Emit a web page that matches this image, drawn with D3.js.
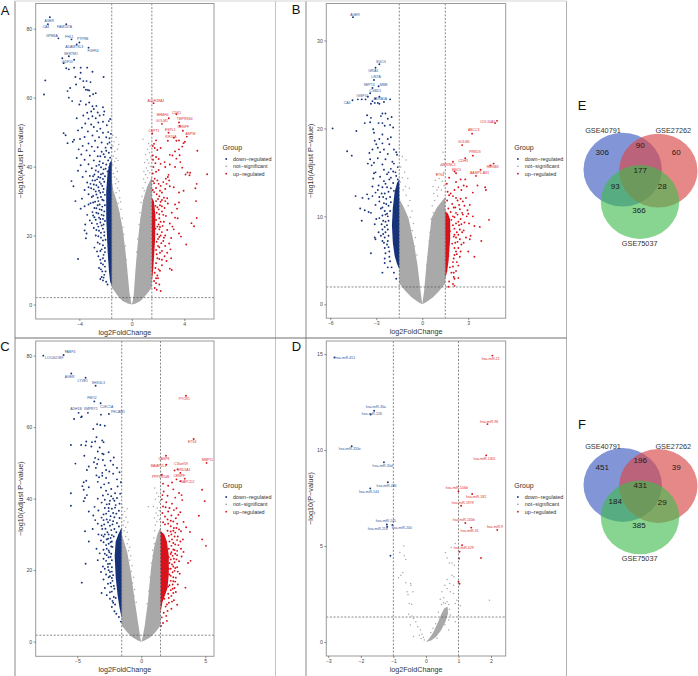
<!DOCTYPE html>
<html><head><meta charset="utf-8">
<script src="https://cdn.jsdelivr.net/npm/d3@7"></script>
<style>html,body{margin:0;padding:0;background:#fff}svg{display:block}text{font-family:"Liberation Sans",Arial,sans-serif}</style>
</head><body><svg id="c" width="698" height="676"></svg>
<script>
// ---------- Panel A values (log2FC, -log10 adj P)
const aDown=[[-6.25,83.3],[-6.4,81.3],[-5,81.3],[-5.6,77.2],[-4.6,76.9],[-4,76],[-4.2,75.4],[-3.3,74.5],[-4.8,72],[-5.3,71.4],[-4.4,71],[-5.2,70],[-5,68.5],[-4.8,68.2],[-4.4,68.7],[-3.9,68.7],[-3.4,68.7],[-3,67.5],[-3.9,67.2],[-2.15,66],[-6.6,65],[-6.7,60.9],
[-4.3,66],[-3.95,65.5],[-3.7,64.8],[-3.45,64.8],[-3.15,64.5],[-4.25,63.8],[-4.7,62.8],[-3.65,63],[-3.5,62.3],[-3.35,62.2],[-3.25,62.1],[-4.9,61.9],[-2.75,61.3],[-2.95,61],[-3.2,60.5],[-4.8,60],[-4.55,59],[-3.9,59],[-4,58],[-3.5,58],[-3.25,58.6],[-3,57.5],[-2.7,57.6],[-2.2,57.2],[-2.9,56.7],[-3.1,56],[-3.4,55.6],[-2.6,55.7],[-2.1,56],[-2.15,55],[-2.45,54.8],[-3.7,54.8],[-3,54.6],[-2.75,54],[-3.3,53.9],[-4.2,54],[-1.65,53.8],[-1.75,53.2],[-2.2,53],[-2.55,52.8],[-3.55,52.5],[-3.1,52.2],[-1.9,52],[-2.9,51.5],[-3.8,51.3],[-2.4,51],[-4.1,50.5],[-2.65,50.3],[-3.35,50.2],[-1.8,50],[-2.2,49.8],[-5.2,49.7],[-5.05,49.1],[-3,49],[-3.6,48.6],[-2.5,48.5],[-1.95,48.5],[-3.95,48],[-4.4,47.8],[-4.5,47.2],[-2.8,47.5],[-4.9,46.8],[-2.3,47],[-1.7,47],[-3.3,46.7],[-3.75,46],[-3.05,45.8],[-2.6,45.6],[-2,45.5],[-4.05,45],[-3.45,44.7],[-2.85,44.5],[-2.3,44.3],[-1.75,44],[-3.85,43.5],[-3.2,43.2],[-2.6,43],[-2.05,42.8],[-4.2,42.5],[-3.6,42],[-2.9,41.8],[-2.45,41.5],[-2.2,41],[-3.3,40.7],[-3.9,40.4],[-2.7,40.2],[-2.35,39.8],[-3.05,39.5],[-2,39.4],[-4.1,38.8],[-3.5,38.6],[-2.55,38.5],[-2.2,38],[-2.85,37.7],[-3.2,37.3],[-3.75,37],[-2.4,36.8],[-2.65,36.3],[-3,36],[-4.6,35.8],[-2.1,35.6],[-3.4,35.4],[-2.35,35],[-2.9,34.8],[-4.45,34.3],[-2.55,34],[-3.1,33.7],[-2.15,33.5],[-3.6,33.2],[-2.75,32.8],[-2.4,32.4],[-3.3,32],[-2.05,31.8],[-2.95,31.5],[-2.6,31],[-3.8,30.7],[-4.3,30],[-2.25,30.4],[-2.8,29.8],[-3.15,29.4],[-2.45,29],[-2.05,28.8],[-3.6,28.5],[-3.9,27.8],[-2.7,27.9],[-2.3,27.4],[-3,26.8],[-2.55,26.4],[-3.4,26],[-2.15,25.8],[-2.85,25.3],[-2.4,24.8],[-3.2,24.4],[-2.05,24.2],[-3.55,23.2],[-2.65,23.4],[-2.3,22.9],[-2.9,22.2],[-3.6,21.5],[-2.5,21.4],[-2.1,21],[-3.45,20.6],[-2.75,20],[-3.5,19.2],[-2.35,19.4],[-2,18.8],[-2.6,18],[-2.2,17.2],[-2.85,16.5],[-2.4,15.5],[-2.05,15.2],[-2.55,14],[-4.1,13.2],[-2.2,13.4],[-2.35,12],[-2.05,11],[-2.5,10.6],[-2.25,9.6],[-2.1,8.6],[-2.3,8],[-2.4,7.4],[-2.2,7],[-1.95,6.6],[-1.85,5.8],
[-1.6,49.5],[-1.7,48.2],[-1.85,46.6],[-1.58,45.5],[-1.95,44.6],[-1.65,42.6],[-2.15,43.6],[-1.8,41.8],[-2.4,43],[-1.6,40.8],[-1.95,40.6],[-2.5,40.5],[-1.72,39.8],[-2.15,39.2],[-2.75,38.9],[-1.85,38.6],[-2.35,37.8],[-2.05,37.2],[-2.95,37.2],[-2.55,37],[-2.2,36.4],[-2.8,36],[-2.45,35.5],[-3.15,35],[-2.7,34.6],[-2.25,34.4],[-3.3,34],[-2.9,33.4],[-2.5,33],[-2.2,32.6],[-2.7,31.9],[-3.05,31.2],[-2.35,31.2],[-2.15,30.2],[-2.55,30],[-2.95,29.6],[-3.3,29],[-2.6,28.8],[-2.25,28.4],[-2.85,28],[-2.45,27.6],[-2.1,27],[-2.7,26.6],[-2.3,26],[-2.95,25.8],[-2.5,25.2],[-2.2,24.8],[-2.75,24.6],[-3.05,23.6],[-2.4,23.8],[-2.15,23.2],[-2.55,22.6],[-2.2,22],[-2.7,21.6],[-2.35,20.8],[-2.1,20],[-2.55,19.8],[-2.2,18.6],[-2.45,17.6],[-2.05,16.4],[-2.3,16],[-2.65,15.4],[-2.15,14.4],[-2.4,13],[-2.05,12.6],[-2.2,11.6],[-2.35,10.2],[-2,9.6],[-2.15,7.8]];
const aDownBand=[[-1.53,5.5],[-1.65,6.5],[-1.75,10],[-1.85,16],[-1.95,25],[-1.95,33],[-1.85,38],[-1.7,41],[-1.53,42]];
const aUp=[[1.66,58.4],[2.82,54],[2.3,52.4],[3.4,55.2],[3.6,52.8],[3.65,51.8],[3.9,50.4],[2.8,49.8],[1.56,49.6],[3.2,48.4],[2.75,47.5],[3.4,47.5],[3.6,47.6],[4.05,47.2],[4.2,48.7],[3.95,46.8],[1.85,47.6],[1.7,46.6],[1.6,46],[1.75,45.4],[3.85,45.8],[3.6,45],[2.2,45.4],[1.95,44.8],[3.3,44.4],[5,44.6],[2.9,43.4],[3.1,43.2],[3.65,43.3],[1.6,43.2],[1.85,42.8],[2.05,42.2],[3.4,42.3],[3.7,41.3],[2.5,41.3],[2.2,40.8],[2.9,40.6],[2.55,39.9],[3.3,39.9],[1.65,39.9],[3.85,39.7],[2.05,39],[1.85,38.5],[4.25,38.3],[4.45,38.2],[4.1,37.7],[5.75,37.8],[4.4,37.5],[2.8,37.6],[2.75,37],[2.6,36.5],[2.85,36],[2.4,35.5],[2.65,35],[4.95,35],[1.7,35.2],[2.2,34.4],[2.9,34.3],[3.2,34],[4.85,33.7],[2.55,33.5],[3.95,33],[1.6,33.2],[2.3,32.5],[1.9,32],[3.6,32.5],[2.1,31.4],[2.45,31],[2.7,30.8],[2.3,30.3],[2.55,30],[2.2,29.8],[4.9,30],[3.6,29.6],[2.75,29.3],[3.3,29],[1.8,28.6],[2.5,28],[2.05,27.6],[3.45,27.8],[2.3,27],[1.9,26.6],[3.05,26.6],[1.7,26],[2.6,25.7],[3.3,25.2],[3.5,25],[4.95,25.1],[2.1,25],[1.85,24.5],[4.55,23.6],[2.45,24],[2.9,23.5],[4.75,22.7],[3.1,22.6],[2.15,22.5],[1.8,22],[2.7,21.6],[3.2,21.8],[2.3,21],[1.95,20.4],[3.6,20.6],[2.55,20],[2.1,19.6],[3.75,19.7],[3,19.3],[2.4,18.4],[1.9,18.2],[2.85,17.7],[4.15,17.4],[2.55,17],[2.1,16.6],[2.95,16],[2.3,15.5],[2.7,15],[1.9,14.6],[2.5,14],[3,13.4],[2.1,13.2],[2.65,12.6],[1.85,12],[2.3,11.4],[2.9,10.4],[3.05,10],[2.15,9.8],[1.75,9.2],[1.95,8.4],[2,7.6],[1.7,6.8],[1.85,6.2],[2.1,5.8],[1.75,4.8],[1.9,4.3],[2.2,3.9],
[1.62,42],[1.8,41],[1.6,38],[1.75,36.5],[1.95,36],[1.62,35.8],[2.05,35],[1.85,33.8],[2.15,33],[1.7,32.6],[2,30.6],[1.85,30],[2.15,28.8],[1.95,28.2],[2.3,28.5],[2.1,26.2],[2.4,26],[2.2,24],[2.05,23.2],[2.35,22.8],[2.1,21.8],[1.95,22.6],[2.2,20],[2.45,19.4],[2,19],[2.25,17.8],[2,17],[1.85,15.8],[2.15,15],[1.95,13.4],[2.3,13],[1.8,10.6],[2.05,10.2],[1.85,7.6]];
const aUpBand=[[1.53,6.5],[1.63,10],[1.7,14],[1.78,19],[1.8,26],[1.68,30],[1.53,31]];
const aGray=[[-1.45,49],[-1.2,48.5],[-1.35,47.2],[-1,46.4],[-1.45,46],[-1.1,45],[-1.3,44.4],[-1.42,43],[-1.18,42.4],[-1.3,41.5],[-1.45,40.5],[-1.05,41.8],[-1.22,39.6],[-1.1,38.6],[-1.4,38],[-1.32,37],[-1.15,36.4],[-1.02,35.6],[-1.25,35],[-1.08,33.8],[-.95,33],[-1.2,32.4],[-.92,31],[-.85,29.8],[-1.05,29.4],[-.82,27.6],[-.95,26.4],[-.72,25],[-.85,23.6],[-.68,22.4],[-.62,20.4],[-.72,18.8],[-.5,17],[-.58,15],[-.42,13],[-.5,11.4],
[.85,47.9],[1.28,46.7],[1.4,46],[1.2,45],[1.35,44],[1.05,43.5],[1.45,42.8],[1.18,42],[1.3,41],[.98,41.2],[1.42,40],[1.1,39.6],[1.22,38.8],[1.38,38.2],[.92,38.6],[1.05,37.6],[1.2,36.8],[.9,36.4],[1.02,35.4],[.85,33.8],[.95,33],[.78,31.4],[.7,29.6],[.82,28.4],[.62,26.6],[.7,25],[.56,23.2],[.62,21.6],[.45,19],[.52,17],[.38,15.2],[.42,13]];
const aGrayLeft=[[0,0],[-.3,.3],[-.7,1],[-1.05,2.4],[-1.3,3.8],[-1.53,5],[-1.53,36],[-1.4,33],[-1.15,30],[-.95,27],[-.7,22],[-.5,16],[-.34,10],[-.18,3.5],[-.06,.7]];
const aGrayRight=[[0,0],[.06,.7],[.15,3],[.28,10],[.46,18],[.62,24],[.85,30],[1.15,34],[1.53,37],[1.53,5],[1.3,3.8],[1,2.4],[.65,1],[.3,.3]];
const aNames=["AGER","CA4","FAM107A","GPM6A","FHL1","PTPRB","ADAMTSL3","FGFR4","SERTM1","GDF10"];
const aNameX=[-6.3,-6.55,-5.13,-6.1,-4.77,-3.75,-4.39,-2.96,-4.64,-4.92];
const aNameY=[82.4,80.5,80.4,78,77.5,77.1,74.6,73.7,72.7,70.5];
const aUpNames=["ALDH18A1","BHMH4","GOLM1","CDK1","TMPRSS4","CENPF","ESPL1","CEPT1","KIF20A","ASPM"];
const aUpNameX=[1.84,2.35,2.3,3.42,4.03,3.93,2.94,1.69,2.99,4.47];
const aUpNameY=[59.2,54.9,53.2,55.7,54,51.6,50.7,50.5,48.5,49.4];

// ---------- Panel B
const bDown=[[-4.52,32.65],[-2.8,27.3],[-3.05,26.9],[-3.15,25.5],[-3.25,24.6],[-2.85,24.8],[-3.4,24],[-3.55,23.6],[-3.05,23.4],[-2.8,23.6],[-4.55,23.2],[-4.2,23.3],[-3.95,23.3],[-3.7,23.3],[-3.25,23.1],[-3.1,22.9],[-2.9,22.9],[-2.1,23.3],[-2.5,23],[-3.35,22.8],[-2.8,22.8],[-3.6,21.5],[-3.35,21.2],[-2.6,21.7],[-2.4,21.7],[-2.7,21.4],[-2,21.3],[-2.25,21.1],[-3.4,20.7],[-3.75,20.6],[-2.85,20.6],[-2.6,20.6],[-2.45,20.3],[-2.1,20.4],[-1.9,20.1],[-5.85,20],[-3.2,19.9],[-3.15,19.5],[-4.3,19.7],[-2.6,19.3],[-2.05,19],[-2.25,18.8],[-2.8,18.8],[-3.1,18.6],[-3,18.2],[-2.6,18.3],[-2.15,18.2],[-2.9,17.8],[-3.25,17.6],[-2.5,17.6],[-1.85,17.6],[-4.9,17.4],[-3.45,17.2],[-2.75,17.3],[-2.25,17.1],[-1.7,17.3],[-4.6,16.9],[-3.4,16.5],[-2.9,16.6],[-2.4,16.5],[-1.95,16.2],[-3.15,16.1],[-3.3,15.8],[-2.6,15.9],[-3.55,16],[-2.05,15.4],[-2.5,15.3],[-3.05,15],[-3.15,14.9],[-1.75,15],[-2.3,14.8],[-2.75,14.5],[-3.2,14.3],[-2.05,14.4],[-1.6,14.2],[-2.5,14],[-3.25,13.4],[-2.85,13.5],[-2.3,13.3],[-2.9,13],[-3.05,12.7],[-3.6,12.5],[-4.35,12.3],[-3.9,12.1],[-3.5,12],[-3.25,12.3],[-2.55,12.2],[-2.8,11.7],[-2.35,11.4],[-3.05,11.3],[-2.6,11],[-4.05,10.9],[-3.75,10.7],[-3.5,10.5],[-3.35,10.4],[-2.4,10.2],[-2.25,10],[-3,9.7],[-2.55,9.5],[-3.95,9.5],[-3.1,9.1],[-2.3,9],[-2.6,8.5],[-2.4,8.2],[-2.7,7.8],[-3.1,7.6],[-3.05,7.4],[-2.5,7],[-2.3,6.8],[-2.45,6.4],[-2.15,6],[-3.35,5.8],[-2.45,5.2],[-2.1,4.9],[-2.45,4.7],[-2.25,4.2],[-2,4.2],[-2.6,3.6],[-1.85,3.6],[-1.7,2.9],
[-1.65,17],[-1.85,16],[-1.6,15.6],[-1.9,15.1],[-2.2,15],[-1.7,14.6],[-2.15,14.2],[-1.9,13.8],[-2.4,13.7],[-2.6,13.3],[-2.05,13.2],[-2.2,12.8],[-1.85,12.9],[-2.45,12.6],[-2.65,12.6],[-2.1,12.2],[-2.35,12],[-2.8,12.2],[-2.05,11.6],[-2.5,11.5],[-2.2,11.2],[-2.7,10.9],[-2.1,10.6],[-2.45,10.6],[-2.6,10.1],[-2.3,10.3],[-2.2,9.5],[-2.8,9.8],[-2.4,9.4],[-2.65,9.1],[-2.45,8.8],[-2.25,8.5],[-2.55,8],[-2.85,8.2],[-2.2,7.8],[-2.45,7.6],[-2.25,7.2],[-2.6,7.2],[-2.2,6.5],[-2.4,5.8],[-2.15,5.4]];
const bDownBand=[[-1.5,4],[-1.65,4.6],[-1.8,5.5],[-1.92,7],[-1.98,9],[-1.92,11],[-1.8,12.8],[-1.65,13.8],[-1.5,14.2]];
const bUp=[[4.87,20.86],[4.75,20.6],[3.25,19.4],[2.6,18.1],[3.3,16.9],[2.8,16.6],[4.65,16],[2,16.2],[4.45,15.8],[3.8,15.3],[2.1,15.1],[2.2,14.9],[3.5,14.6],[1.75,14.4],[2.5,14.2],[2.8,14.2],[2.2,13.9],[2.7,13.5],[1.6,13.7],[2.35,13.3],[3.6,13.5],[4.1,13.3],[2.9,13.4],[4.15,13],[2.55,13],[2.1,13],[3.3,12.7],[1.75,12.4],[2.2,12.1],[2.5,12],[2.85,12.1],[2.65,11.7],[2.4,11.3],[1.95,11.4],[3.1,11.3],[2.75,11.2],[2.15,11],[1.7,10.9],[2.95,10.7],[2.6,10.4],[3,10.3],[2.3,10.2],[2.9,10],[3.3,10],[2.1,9.9],[2.5,9.7],[1.9,9.6],[4.35,9.6],[2.75,9.3],[3.05,9.2],[2.4,9],[3.4,8.9],[3.75,8.8],[2.1,8.6],[1.8,8.3],[2.6,8.2],[2.35,7.9],[3.15,7.8],[2.05,7.7],[2.85,7.6],[3.1,7.4],[3.85,7.2],[2.3,7.1],[2.7,7],[1.95,6.9],[2.1,6.4],[3,6],[2.5,6],[2.25,5.7],[1.7,5.5],[3.4,5.4],[2.05,5.2],[1.6,5],[2,4.8],[2.35,4.4],[1.8,4.2],[2.05,3.6],[2.35,3],[2.1,2.9],[1.75,2.6],[2,2.3],[2.1,2.1],[1.7,2],
[1.65,12.8],[1.85,12.6],[2,12.3],[1.62,11.8],[2.3,11.8],[2.05,11],[2.45,10.8],[1.85,10.5],[2.2,10.4],[2.65,10.2],[2,10],[2.35,9.4],[2.55,9.1],[2.2,9.2],[2,9],[2.45,8.5],[2.25,8.2],[2.7,8.4],[2.1,7.9],[2.45,7.4],[2.2,7.6],[2.55,6.8],[2.15,7],[2.35,6.4],[2.2,6],[2.45,5.4],[2.1,5.6],[2.25,4.8],[2,4.3],[2.2,3.8],[1.9,3.6],[2.05,3.1]];
const bUpBand=[[1.5,3],[1.62,3.7],[1.72,5],[1.82,7.5],[1.82,9.6],[1.68,10.3],[1.5,10.6]];
const bGray=[[-1.3,16.8],[-1.05,16.4],[-1.4,15.6],[-1.15,15],[-1.3,14.4],[-.95,14.3],[-1.42,13.9],[-1.1,13.4],[-1.25,13],[-.85,13.2],[-1.05,12.4],[-.8,11.8],[-.92,11.2],[-.68,10.6],[-.78,9.9],[-.58,9.2],[-.65,8.4],[-.45,7.6],[-.5,6.6],[-.35,5.6],[-.4,4.8],
[1.35,17.3],[1.45,16.5],[1.2,15.8],[1.4,15],[.95,14.8],[1.1,14.3],[1.3,14],[.85,14.1],[1.42,13.5],[.7,13.4],[1.05,13.3],[1.25,13],[.95,13],[.75,12.6],[1,12.3],[.8,11.8],[.65,11.2],[.72,10.4],[.58,9.7],[.62,9],[.5,8.2],[.44,7.2],[.48,6.4],[.36,5.4],[.3,4.5]];
const bGrayLeft=[[0,0],[-.3,.3],[-.7,.8],[-1.1,1.5],[-1.5,2.4],[-1.5,12],[-1.2,11],[-.9,9.8],[-.55,7],[-.3,4.3],[-.1,1.3],[-.03,.4]];
const bGrayRight=[[0,0],[.03,.4],[.12,1.5],[.26,4.3],[.42,7],[.6,9.8],[.95,11],[1.5,12.2],[1.5,2.4],[1.1,1.5],[.7,.8],[.3,.3]];
const bNames=["AGER","SGCG","GRIA1","LIN7A","SEPT4","MME","CGBD1","IGSF10","ADRA1A","CA4"];
const bNameX=[-4.39,-2.7,-3.2,-3.02,-3.46,-2.52,-3.07,-3.91,-2.74,-4.9];
const bNameY=[32.95,27.6,26.5,25.9,25,24.9,24.3,23.7,23.4,22.9];
const bUpNames=["COL10A1","ABCC3","GOLM1","PRKD3","CDH3","HMGB3","SERINC2","ENO1","AAMP1-AS1","ETV4"];
const bUpNameX=[4.26,3.35,2.72,3.43,2.67,4.59,1.7,2.24,3.74,1.15];
const bUpNameY=[20.8,19.8,18.5,17.3,16.3,15.66,15.9,15.3,15,14.75];

// ---------- Panel C
const cDown=[[-6.07,80.2],[-7.66,80],[-5.47,75],[-4.35,73.8],[-3.57,71.6],[-3.67,67.2],[-3.18,66.7],[-4.9,64],[-4.17,64],[-5.25,62.3],[-4.65,63],[-4.7,62.8],[-3.15,63.5],[-2.53,63.7],[-3.45,60.8],[-3.2,60.6],[-2.85,60.4],[-3.75,59.5],[-3.5,57.2],[-3.05,56.3],[-3.85,55.8],[-4.3,56],[-3.6,56],[-2.95,55.8],[-5.5,55],[-4.7,55],[-4.35,54.9],[-3.9,54.6],[-3.25,54.3],[-2.55,53],[-3.4,53.2],[-3.05,52.6],[-2.95,52.4],[-4.45,52],[-3.6,51.4],[-2.15,51.5],[-3.35,51],[-3,50.8],[-2.4,50.6],[-3.7,50.2],[-5.15,49.8],[-3.45,49.7],[-2.85,49.3],[-2.2,49.5],[-4.1,49],[-3.55,48.6],[-1.9,48.6],[-4.25,48],[-2.75,48],[-2.5,47.6],[-3.05,47.2],[-2.2,47],[-3.5,46.5],[-3.05,46.4],[-3.3,46],[-2.75,45.8],[-1.9,45.4],[-4.3,45],[-4.5,44.6],[-3.4,44.7],[-2.55,44.4],[-2.9,44],[-4.6,43.5],[-4.1,43.2],[-3.15,43.1],[-2.35,42.7],[-4.5,42.5],[-2.75,42.2],[-2.05,41.5],[-5.5,41.5],[-2.6,41.2],[-4.25,41],[-3,40.9],[-2.35,40.7],[-4.4,40.2],[-3.4,40],[-2.85,39.7],[-4.5,39.3],[-2.1,39.4],[-3.1,38.9],[-2.5,38.5],[-5.5,38],[-3.65,37.7],[-2.85,37.4],[-2.05,37.5],[-3.35,36.7],[-2.55,36.5],[-4.1,36.4],[-2.2,36],[-3.75,35.3],[-2.95,35.6],[-2.4,35.1],[-3.1,34.7],[-2.7,34.2],[-3.6,34],[-2.2,33.7],[-3.4,33],[-2.9,32.8],[-2.45,32.4],[-3.8,31.5],[-3.05,31.5],[-2.1,31.5],[-4.4,30.9],[-2.65,30.6],[-3.35,30],[-2.3,29.8],[-2.95,29.4],[-2.6,28.8],[-4.1,28],[-3.15,28.3],[-2.4,27.8],[-2.75,27],[-2.25,26.5],[-3.5,26],[-2.95,25.7],[-2.55,25.5],[-3.25,24.7],[-2.7,24.2],[-2.4,23.7],[-2.95,23.2],[-3.4,22.8],[-4.35,21.8],[-2.6,21.7],[-3,21],[-2.85,20.4],[-2.55,20],[-2.3,19.6],[-3.15,19.5],[-2.75,18.8],[-2.45,18.3],[-2.95,17.4],[-2.25,17],[-4.65,16.5],[-2.6,16.2],[-2.35,15.4],[-2.85,15],[-2.1,14.8],[-3.1,13.6],[-2.45,13.8],[-2.7,13],[-2.15,12.5],[-2.45,12],[-2.2,10.9],[-2.05,10.4],[-2.3,9.7],[-2.1,8.5],[-1.95,7.8],[-1.75,6.9],[-1.6,5.6],
[-1.7,47.4],[-1.6,44.6],[-1.85,43.4],[-1.65,41.4],[-1.9,40.2],[-2.2,40],[-1.7,38.6],[-2.45,39.4],[-2,38.2],[-2.7,38.4],[-1.75,36.6],[-2.3,37.2],[-2.55,37.4],[-1.95,35.8],[-2.75,35.8],[-1.7,34.6],[-2.45,34],[-2.1,34.8],[-2.95,34],[-1.9,33.2],[-2.6,33.4],[-2.25,32.8],[-1.75,32.2],[-3.1,32.4],[-2.8,31.6],[-2.35,31.2],[-1.95,30.6],[-2.55,30],[-2.85,30],[-2.15,29.4],[-3.1,29.8],[-2.4,29],[-2.7,28.6],[-2.3,28],[-2.95,27.8],[-2.55,27.4],[-2.35,26.6],[-2.7,26],[-2.5,25],[-2.35,24.6],[-2.85,24.6],[-2.55,23.6],[-2.3,22.8],[-2.75,22.6],[-2.45,21.8],[-2.3,20.8],[-2.6,20.9],[-2.45,19.5],[-2.2,18.6],[-2.55,18],[-2.3,17.8],[-2.4,16.4],[-2.15,15.6],[-2.3,14],[-2,12.2],[-2.25,11.4]];
const cDownBand=[[-1.53,6.5],[-1.7,9.5],[-1.85,13],[-2,18],[-2.08,24],[-2,28],[-1.8,30],[-1.53,32]];
const cUp=[[3.49,68.8],[4.09,56.7],[5.1,50],[1.93,52],[1.95,49.5],[2.83,48.2],[3.05,47.2],[2.6,47.9],[2.75,45.4],[3.4,45.6],[3.05,44.9],[1.6,46.7],[1.7,44.2],[2.4,44.5],[2.1,43.6],[4.75,42.5],[2.5,42.6],[1.75,42],[2.95,41.6],[3.15,41],[2.05,40.8],[2.65,40.3],[1.6,39.8],[4.95,39.3],[3.2,39.6],[1.95,39],[2.4,38.6],[1.7,37.8],[2.75,37.3],[2.55,36.8],[3.05,36.2],[2.1,36.4],[2.9,35.5],[4.5,35.2],[2.35,35.3],[2.7,34.5],[2.05,34.2],[3.3,33.5],[2.5,33.6],[2.8,33],[1.85,32.8],[3.5,32],[2.3,32.3],[2.55,31.8],[2.95,31.4],[3.1,30.9],[3.8,30.7],[2.65,30.5],[2.35,30],[2.85,29.4],[3.25,28.6],[4.75,28.6],[3.05,28],[2.5,27.6],[2.9,27],[5.05,26.8],[3.1,26],[2.6,25.6],[3.3,25.1],[2.3,24.5],[2.8,24.2],[3.15,23.8],[2.55,23.2],[2.95,22.5],[3.85,22.6],[3.65,22],[2.4,21.6],[2.8,20.8],[2.15,20.4],[2.6,19.8],[3,19],[2.3,18.4],[2.7,17.9],[2.5,16.9],[2.85,16],[2.2,15.8],[3.45,15.1],[2.45,14.8],[2.7,13.9],[2.1,13.4],[2.35,12.8],[1.8,12],[2.55,11.6],[2.15,10.9],[2.8,10.3],[1.9,9.8],[2.35,9.2],[2.05,8.6],[1.75,8.1],[1.95,7.2],[1.6,6.8],[2,5.8],[1.7,5.2],[1.55,4.4],
[1.65,41],[1.9,37.6],[2.2,37.4],[1.65,36],[1.85,35],[2.1,33],[1.7,33.4],[2.3,33.8],[2.5,31],[2.05,31],[2.75,31.8],[2.3,30.8],[2.15,29.6],[2.6,29.4],[2.4,28.6],[2.8,28.4],[2.2,28],[2.65,27.2],[2.35,26.8],[2.15,26],[2.5,25.8],[2.8,25.4],[2.35,25],[2.65,24.6],[2.45,24],[2.15,23.6],[2.75,23],[2.3,23],[2.6,22.2],[2.2,22],[2.5,21],[2.3,20.4],[2.65,20.6],[2.85,19.6],[2.45,19.4],[2.2,18.8],[2.5,18],[2.3,17],[2.65,16.8],[2.45,16],[2.1,15.4],[2.6,15],[2.3,14.4],[2.5,13.6],[2.15,12.2],[2.4,11.2],[2,10.4]];
const cUpBand=[[1.5,8],[1.65,11],[1.85,13],[2.05,15],[2.15,19],[2.15,24],[2,28],[1.8,30],[1.5,31]];
const cGray=[[-1.45,37.5],[-1.1,37.2],[-1.3,36.4],[-1.45,35.5],[-1.2,34.8],[-1.35,33.8],[-1.05,33.4],[-1.42,32.6],[-1.22,32],[-1.35,31],[-1.1,30.6],[-1.22,29.4],[-1,28.6],[-1.1,27.4],[-.9,26.4],[-1,25.4],[-.82,24],[-.9,22.8],[-.72,21.2],[-.78,19.6],[-.6,18],[-.68,16.4],[-.52,14.6],[-.56,12.8],[-.4,11],
[.55,37.7],[1.05,43],[1.2,41.6],[1.35,40.6],[1.1,39.8],[1.42,39],[.95,37.8],[1.25,37.4],[1.4,36.6],[1.15,36],[1.3,35.3],[1.02,34.6],[1.42,34.2],[1.22,33.6],[1.1,32.6],[1.05,31],[.98,29],[1.02,27.4],[.88,25.6],[.92,24],[.78,22],[.8,20],[.68,18],[.7,16],[.58,14.2],[.6,12.4],[.46,10.6]];
const cGrayLeft=[[0,0],[-.3,.4],[-.7,1.2],[-1.1,2.6],[-1.53,4.5],[-1.53,30],[-1.35,28],[-1.1,25],[-.8,19],[-.5,11.2],[-.2,4],[-.06,.8]];
const cGrayRight=[[0,0],[.08,.9],[.25,4],[.52,11.2],[.76,20.5],[.98,26],[1.25,30],[1.5,32],[1.5,4.5],[1.1,2.6],[.7,1.2],[.3,.4]];
const cNames=["FABP4","LOC401389","AGER","LYVE1","SH3GL3","FMO2","CLEC1A","ADH1B","VMPRY1","PECAM1"];
const cNameX=[-5.57,-6.8,-5.6,-4.58,-3.36,-3.85,-2.71,-5.1,-3.96,-1.82];
const cNameY=[81.1,79.3,74.1,73.1,72.5,68.2,65.8,65,65,64.2];
const cUpNames=["PYCR1","ETV4","MMP11","CASP8","BAIAP2L1","C16orf59","SRD5A1","CENPF","PPP1R14B","SAPCD2"];
const cUpNameX=[3.36,3.98,5.16,1.77,1.35,3.1,3.33,2.97,1.51,3.62];
const cUpNameY=[68,55.8,50.8,51.2,49.3,49.8,48.1,46.4,46.2,44.8];

// ---------- Panel D
const dDown=[[-2.81,14.82],[-1.59,12.05],[-1.7,11.85],[-2.28,10.2],[-1.29,9.36],[-1.17,8.32],[-1.71,8],[-1.2,6.12],[-1.19,6],[-1.03,6.1],[-1.09,4.49]];
const dUp=[[2.04,14.92],[1.89,11.35],[1.85,9.72],[1,7.85],[1.42,7.71],[1.08,7.1],[1.21,6.2],[1.39,5.96],[2.19,5.84],[1.11,5.04],[1.03,4.7],[1.02,4.35],[1.69,4.38],[1,3.14],[1.03,3.03]];
const dGray=[[-.68,5],[-.8,4.66],[-.67,4.49],[-.62,4.3],[.6,4.66],[.65,4.38],[.78,4.92],[.9,5.13],[.72,4.12],[.8,4.12],[.87,4],[-.71,3.62],[-.77,3.48],[-.84,3.34],[-.62,3.08],[-.47,3.05],[-.46,2.96],[-.58,2.62],[-.4,2.62],[-.55,2.48],[.8,3.48],[.86,3.4],[.65,3.26],[.73,3.05],[.58,2.96],[.85,2.96],[.65,2.79],[.49,2.62],[.85,2.53],[.75,2.62],[.44,2.22],[.54,2.05],[.65,2.1],[.95,2.18],[1.06,1.89],[1.95,2.18],[-.51,2.01],[-.44,1.96],[-.43,1.35],[-.38,1.23],[-.53,1.44],[-.31,1.06],[-.48,.88],[-.38,.28],[-.25,.8],[-.17,.62],[.34,.19],[.7,.62],[.9,1.06],[.75,1.4],[.65,1.72],[.9,2],[.55,2.3],[.6,2],[.7,1.95],[.48,1.95],[.38,1.55],[.72,1.7],[-.12,.4],[-.2,.35],[-.08,.25],[-.15,.18],[-.05,.1],[.58,.9],[.7,1.15],[.15,.5],[.3,.95],[.22,.72]];
const dGrayArc=[[0,0],[.1,.18],[.22,.48],[.35,.95],[.46,1.4],[.56,1.75],[.66,1.85],[.68,1.5],[.6,1.05],[.46,.6],[.32,.28],[.16,.08]];
const dNames=["hsa-miR-451","hsa-miR-30a","hsa-miR-126","hsa-miR-320e","hsa-miR-30d","hsa-miR-486","hsa-miR-144","hsa-miR-145","hsa-miR-218","hsa-miR-200"];
const dNameX=[-2.48,-1.54,-1.66,-2.34,-1.33,-1.21,-1.75,-1.23,-1.48,-.74];
const dNameY=[14.82,12.25,11.89,10.05,9.19,8.16,7.85,6.29,5.91,5.94];
const dUpNames=["hsa-miR-21","hsa-miR-96","hsa-miR-1305","hsa-miR-106b","hsa-miR-182","hsa-miR-1979","hsa-miR-130b","hsa-miR-31","hsa-miR-9","hsa-miR-429"];
const dUpNameX=[1.99,1.94,1.8,.95,1.54,1.13,1.16,1.34,2.12,1.16];
const dUpNameY=[14.75,11.49,9.57,8.02,7.57,7.24,6.36,5.79,6.01,4.92];

// ---------- Venn panels
const vennSets=["GSE40791","GSE27262","GSE75037"];
const vennE=[306,90,60,177,93,28,366];
const vennF=[451,196,39,431,184,29,385];
const groupLabels=["down\u2212regulated","not\u2212significant","up\u2212regulated"];

const BLUE="#16337a",GRAY="#a9a9a9",RED="#d8121c",LBLUE="#2f5596",LRED="#dc2a30";
const svg=d3.select("#c");

// panel borders
const frame=svg.append("g").attr("fill","none");
[[15,1,15,676,"#8a8a8a"],[275.5,1,275.5,676,"#c4c4c4"],[306,1,306,676,"#8a8a8a"],[566.5,1,566.5,676,"#b0b0b0"],[15,1,566.5,1,"#d4d4d4"],[15,338,566.5,338,"#6e6e6e"]]
 .forEach(l=>frame.append("line").attr("x1",l[0]).attr("y1",l[1]).attr("x2",l[2]).attr("y2",l[3]).attr("stroke",l[4]).attr("stroke-width",1));

function volcano(o){
  const g=svg.append("g");
  const x=d3.scaleLinear().domain(o.xd).range([o.l,o.r]);
  const y=d3.scaleLinear().domain(o.yd).range([o.b,o.t]);
  const area=d3.line().x(d=>x(d[0])).y(d=>y(d[1]));
  (o.grayAreas||[]).forEach(p=>g.append("path").attr("d",area(p)+"Z").attr("fill",GRAY));
  g.selectAll("circle.g").data(o.gray).join("circle").attr("class","g").attr("cx",d=>x(d[0])).attr("cy",d=>y(d[1])).attr("r",.75).attr("fill",GRAY);
  if(o.downBand)g.append("path").attr("d",area(o.downBand)+"Z").attr("fill",BLUE);
  if(o.upBand)g.append("path").attr("d",area(o.upBand)+"Z").attr("fill",RED);
  g.selectAll("circle.d").data(o.down).join("circle").attr("class","d").attr("cx",d=>x(d[0])).attr("cy",d=>y(d[1])).attr("r",.95).attr("fill",BLUE);
  g.selectAll("circle.u").data(o.up).join("circle").attr("class","u").attr("cx",d=>x(d[0])).attr("cy",d=>y(d[1])).attr("r",.95).attr("fill",RED);
  // thresholds
  o.vl.forEach(v=>g.append("line").attr("x1",x(v)).attr("x2",x(v)).attr("y1",o.t).attr("y2",o.b).attr("stroke","#555").attr("stroke-width",.7).attr("stroke-dasharray","2,1.6"));
  g.append("line").attr("x1",o.l).attr("x2",o.r).attr("y1",y(o.hl)).attr("y2",y(o.hl)).attr("stroke","#555").attr("stroke-width",.7).attr("stroke-dasharray","2,1.6");
  // gene labels
  const lab=(names,xs,ys,c)=>names.forEach((n,i)=>g.append("text").attr("x",x(xs[i])).attr("y",y(ys[i])).attr("dy",".35em").attr("text-anchor","middle").attr("font-size",o.labSize||3.4).attr("fill",c).text(n));
  lab(o.names,o.nameX,o.nameY,LBLUE);
  lab(o.upNames,o.upNameX,o.upNameY,LRED);
  // box
  g.append("rect").attr("x",o.l).attr("y",o.t).attr("width",o.r-o.l).attr("height",o.b-o.t).attr("fill","none").attr("stroke","#9a9a9a").attr("stroke-width",1);
  // axes
  const ax=d3.axisBottom(x).tickValues(o.xt).tickSize(2).tickPadding(1).tickFormat(d=>d<0?"\u2212"+Math.abs(d):d);
  const ay=d3.axisLeft(y).tickValues(o.yt).tickSize(2).tickPadding(1.5);
  [[ax,`translate(0,${o.b})`],[ay,`translate(${o.l},0)`]].forEach(([a,t])=>{
    const s=g.append("g").attr("transform",t).call(a);
    s.select(".domain").remove();
    s.selectAll("line").attr("stroke","#444").attr("stroke-width",.6);
    s.selectAll("text").attr("font-size",5.2).attr("fill","#4a4a4a").attr("font-family",'"Liberation Sans",Arial,sans-serif');
  });
  g.append("text").attr("x",(o.l+o.r)/2).attr("y",o.b+15.6).attr("text-anchor","middle").attr("font-size",7.2).attr("fill","#333").text("log2FoldChange");
  g.append("text").attr("transform",`translate(${o.l-13},${(o.t+o.b)/2}) rotate(-90)`).attr("text-anchor","middle").attr("font-size",7.2).attr("fill","#333").text(o.yLabel);
  // legend
  const lx=o.r+8.6, ly=o.legY;
  g.append("text").attr("x",lx).attr("y",ly).attr("dy",".35em").attr("font-size",7).attr("fill","#333").text("Group");
  groupLabels.forEach((t,i)=>{
    const yy=ly+11+i*7.35;
    g.append("circle").attr("cx",lx+3.6).attr("cy",yy).attr("r",.9).attr("fill",[BLUE,GRAY,RED][i]);
    g.append("text").attr("x",lx+10.4).attr("y",yy).attr("dy",".35em").attr("font-size",5.4).attr("fill","#333").text(t);
  });
}
volcano({l:35.7,r:214,t:3.5,b:319,xd:[-7.33,6.27],yd:[-4.2,87.3],xt:[-4,0,4],yt:[0,20,40,60,80],vl:[-1.53,1.53],hl:2,gray:aGray,grayAreas:[aGrayLeft,aGrayRight],down:aDown,up:aUp,downBand:aDownBand,upBand:aUpBand,names:aNames,nameX:aNameX,nameY:aNameY,upNames:aUpNames,upNameX:aUpNameX,upNameY:aUpNameY,yLabel:"\u2212log10(Adjust P\u2212value)",legY:148});
volcano({l:326.3,r:505.7,t:3.5,b:318.2,xd:[-6.26,5.44],yd:[-1.58,34.2],xt:[-6,-3,0,3],yt:[0,10,20,30],vl:[-1.5,1.5],hl:1.97,gray:bGray,grayAreas:[bGrayLeft,bGrayRight],down:bDown,up:bUp,downBand:bDownBand,upBand:bUpBand,names:bNames,nameX:bNameX,nameY:bNameY,upNames:bUpNames,upNameX:bUpNameX,upNameY:bUpNameY,yLabel:"\u2212log10(Adjust P\u2212value)",legY:148});
volcano({l:35.7,r:214,t:341,b:656.3,xd:[-8.25,5.68],yd:[-4.1,84.1],xt:[-5,0,5],yt:[0,20,40,60,80],vl:[-1.53,1.5],hl:1.8,gray:cGray,grayAreas:[cGrayLeft,cGrayRight],down:cDown,up:cUp,downBand:cDownBand,upBand:cUpBand,names:cNames,nameX:cNameX,nameY:cNameY,upNames:cUpNames,upNameX:cUpNameX,upNameY:cUpNameY,yLabel:"\u2212log10(Adjust P\u2212value)",legY:486});
volcano({l:326.3,r:505.7,t:341,b:656,xd:[-3.06,2.45],yd:[-.73,15.68],xt:[-3,-2,-1,0,1,2],yt:[0,5,10,15],vl:[-1,1],hl:1.3,gray:dGray,grayAreas:[dGrayArc],down:dDown,up:dUp,names:dNames,nameX:dNameX,nameY:dNameY,upNames:dUpNames,upNameX:dUpNameX,upNameY:dUpNameY,yLabel:"\u2212log10(P\u2212value)",legY:486,labSize:3.5});

// Venn diagrams
function venn(vals,cy0,letterY){
  const g=svg.append("g");
  const rx=39.2,ry=36.9;
  const cs=[[622.7,cy0,"#3f5ec2",.65],[658.3,cy0+1,"#d94848",.65],[640,cy0+32.3,"#3dbb4c",.62]];
  cs.forEach(c=>g.append("ellipse").attr("cx",c[0]).attr("cy",c[1]).attr("rx",rx).attr("ry",ry).attr("fill",c[2]).attr("fill-opacity",c[3]));
  const tx=[603,673.3,639.7],ty=[cy0-38.8,cy0-38.8,cy0+73.5];
  vennSets.forEach((s,i)=>g.append("text").attr("x",tx[i]).attr("y",ty[i]).attr("dy",".35em").attr("text-anchor","middle").attr("font-size",7.3).attr("fill","#333").text(s));
  const nx=[602.3,640.3,676.3,640.3,615.3,662.3,639],ny=[-18,-24.7,-18,0,16.3,16.7,40];
  vals.forEach((v,i)=>g.append("text").attr("x",nx[i]).attr("y",cy0+ny[i]).attr("dy",".35em").attr("text-anchor","middle").attr("font-size",8).attr("fill","#1a1a1a").text(v));
  g.append("text").attr("x",582).attr("y",letterY).attr("dy",".35em").attr("text-anchor","middle").attr("font-size",13).attr("fill","#111").text(letterY<300?"E":"F");
}
venn(vennE,169.7,105);
venn(vennF,485,424);
[["A",5,10],["B",296,9],["C",5,346],["D",296.5,346.5]].forEach(l=>svg.append("text").attr("x",l[1]).attr("y",l[2]).attr("dy",".35em").attr("text-anchor","middle").attr("font-size",13).attr("fill","#111").text(l[0]));
</script></body></html>
